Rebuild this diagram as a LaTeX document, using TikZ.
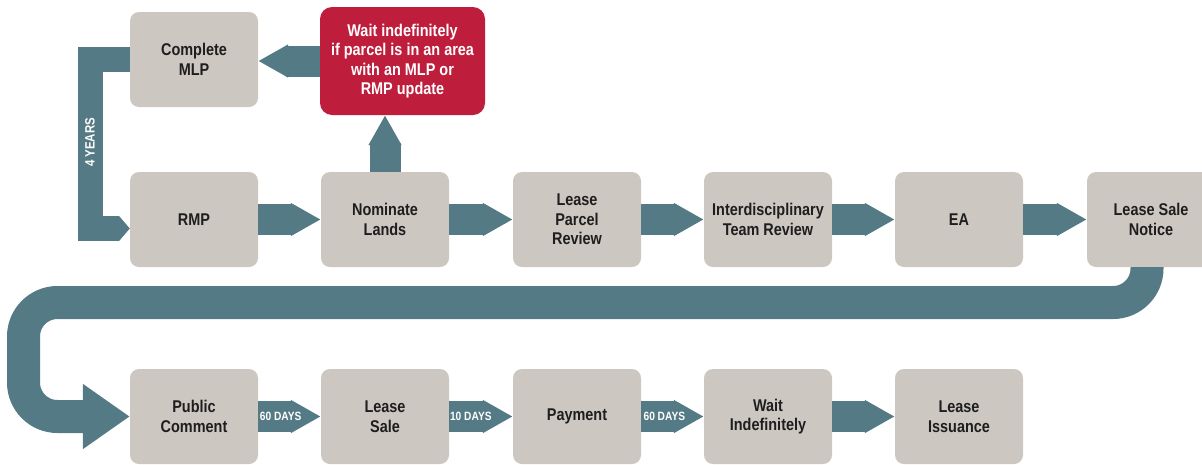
\documentclass[tikz,border=0pt]{standalone}
\usepackage{fontspec}
\setmainfont{Liberation Sans}[FakeStretch=0.85]
\usetikzlibrary{arrows.meta}

\definecolor{boxgray}{RGB}{205,199,193}
\definecolor{alertred}{RGB}{190,30,60}
\definecolor{flowteal}{RGB}{84,122,133}
\definecolor{textdark}{RGB}{30,30,30}

\begin{document}
\begin{tikzpicture}[x=1pt, y=-1pt]
\tikzstyle{stage}=[fill=boxgray, rounded corners=9pt, minimum width=128pt, minimum height=95pt, inner sep=0pt, align=center, text=textdark, font=\bfseries\fontsize{17}{19.5}\selectfont]
\tikzstyle{hold}=[stage, fill=alertred, text=white, minimum width=165pt, minimum height=108pt, rounded corners=12pt]
\tikzstyle{flow}=[draw=flowteal, line width=31pt, line cap=butt, -{Triangle[length=30pt, width=31pt]}]
\tikzstyle{days}=[text=white, inner sep=0pt, font=\bfseries\fontsize{12}{13}\selectfont]

\useasboundingbox (0,0) rectangle (1202,464);
\clip (0,0) rectangle (1202,464);

% planning loop
\draw (194,59.5) node[stage] (mlp) {Complete\\MLP};
\draw (402.5,61) node[hold] (wait) {Wait indefinitely\\if parcel is in an area\\with an MLP or\\RMP update};

% leasing steps
\draw (194,219.5) node[stage] (rmp) {RMP};
\draw (385,219.5) node[stage] (nom) {Nominate\\Lands};
\draw (577,219.5) node[stage] (lpr) {Lease\\Parcel\\Review};
\draw (768,219.5) node[stage] (idt) {Interdisciplinary\\Team Review};
\draw (959,219.5) node[stage] (ea) {EA};
\draw (1151,219.5) node[stage] (lsn) {Lease Sale\\Notice};

\draw (194,416.5) node[stage] (pc) {Public\\Comment};
\draw (385,416.5) node[stage] (ls) {Lease\\Sale};
\draw (577,416.5) node[stage] (pay) {Payment};
\draw (768,416.5) node[stage] (wi) {Wait\\Indefinitely};
\draw (959,416.5) node[stage] (li) {Lease\\Issuance};

% arrows
\draw[flow] (nom.north) -- (nom.north |- wait.south);
\draw[flow] (wait.west) -- (wait.west -| mlp.east);
\draw[flow, line width=25pt, line join=miter, -{Triangle[length=11pt, width=25pt]}]
  (mlp.west) -- (90,59.5) -- (90,228.5) node[pos=0.49, sloped, rotate=180, days, font=\bfseries\fontsize{13.5}{14}\selectfont] {4 YEARS} -- ([yshift=-9pt]rmp.west);

\draw[flow] (rmp) -- (nom);
\draw[flow] (nom) -- (lpr);
\draw[flow] (lpr) -- (idt);
\draw[flow] (idt) -- (ea);
\draw[flow] (ea) -- (lsn);

\draw[flow, line width=33pt, rounded corners=34pt, -{Triangle[length=47pt, width=62pt]}]
  ([xshift=-4pt]lsn.south) -- (1147,302.5) -- (23.5,302.5) -- (23.5,416.5) -- (pc.west);

\draw[flow] (pc) -- node[days, pos=0.36] {60 DAYS} (ls);
\draw[flow] (ls) -- node[days, pos=0.34] {10 DAYS} (pay);
\draw[flow] (pay) -- node[days, pos=0.37] {60 DAYS} (wi);
\draw[flow] (wi) -- (li);
\end{tikzpicture}
\end{document}
